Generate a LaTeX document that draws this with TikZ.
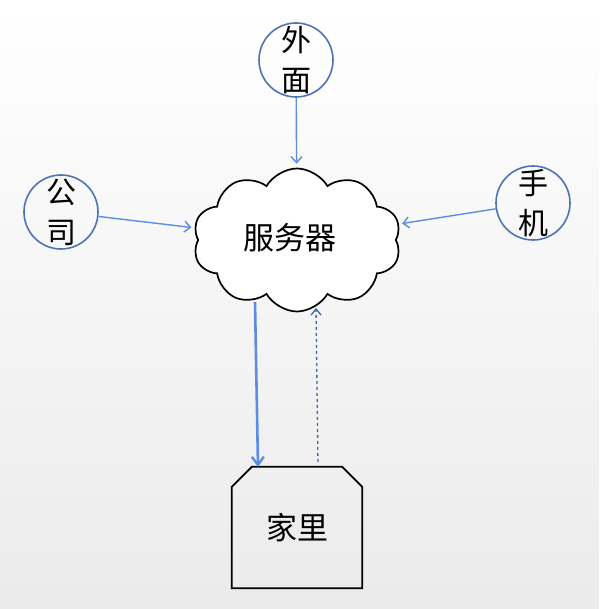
\documentclass[tikz,border=0pt]{standalone}
\usepackage{fontspec}
\setmainfont{Noto Sans CJK SC}
\usetikzlibrary{shapes.symbols,arrows.meta,calc}
\definecolor{circblue}{HTML}{4F72B3}
\definecolor{arrblue}{HTML}{5B8EE3}
\definecolor{dashblue}{HTML}{3F66AA}
\begin{document}
\begin{tikzpicture}[x=1pt,y=-1pt,
  place/.style={circle,draw=circblue,line width=1.6pt,minimum size=74pt,inner sep=0pt,
    font=\fontsize{30}{40}\selectfont,align=center},
  thinarrow/.style={draw=arrblue,line width=1.4pt,-{Straight Barb[length=6pt,width=11pt,line width=1.4pt]}},
  bigtext/.style={font=\fontsize{31}{36}\selectfont}]
\shade[top color=white,bottom color=black!8] (0,0) rectangle (599,609);
\useasboundingbox (0,0) rectangle (599,609);
\node[cloud,cloud puffs=10,cloud puff arc=120,aspect=1.5,draw,line width=1.7pt,fill=white,
  minimum width=208pt,minimum height=143pt,inner sep=0pt] (srv) at (297,240) {};
\node[bigtext] (srvlbl) at (290,238) {服务器};
\node[place] (wm) at (296,60) {外\\面};
\node[place] (gs) at (61,212) {公\\司};
\node[place] (sj) at (533,203) {手\\机};
\node[minimum width=130pt,minimum height=121pt,inner sep=0pt,bigtext] (home) at (297,527.5) {家里};
\draw[line width=1.8pt,line join=miter]
  ($(home.north west)+(0,20)$) -- ($(home.north west)+(20,0)$) --
  ($(home.north east)+(-20,0)$) -- ($(home.north east)+(0,20)$) --
  (home.south east) -- (home.south west) -- cycle;
\draw[thinarrow,shorten >=4pt] (wm) -- (srv);
\draw[thinarrow,shorten >=3pt] (gs) -- (srv);
\draw[thinarrow,shorten >=3pt] (sj) -- (srv);
\draw[draw=arrblue,line width=2.6pt,-{Straight Barb[length=8pt,width=12pt,line width=2.4pt]}]
  ([xshift=-42pt,yshift=-62pt]srv.center) -- ([xshift=-39pt]home.north);
\draw[draw=dashblue,line width=1.3pt,dashed,-{Straight Barb[length=6pt,width=10pt,line width=1.3pt]},shorten <=5pt]
  ([xshift=21pt]home.north) -- ([xshift=19pt,yshift=-68pt]srv.center);
\end{tikzpicture}
\end{document}
